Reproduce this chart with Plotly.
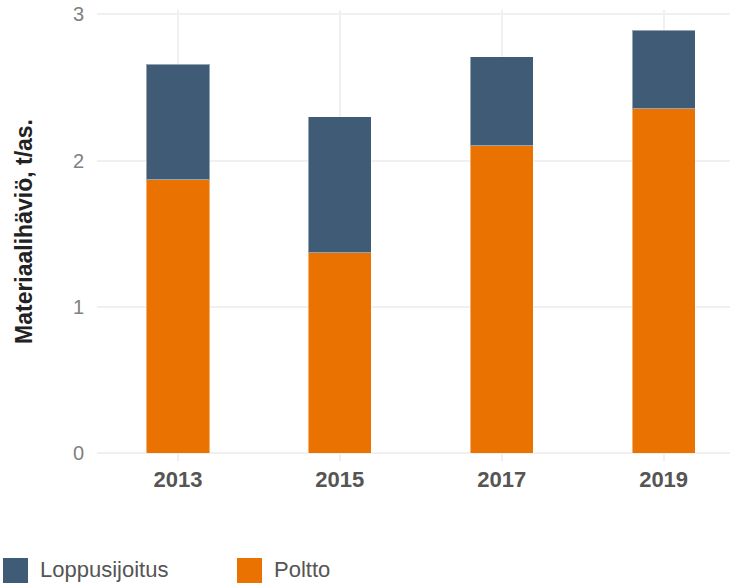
import plotly.graph_objects as go

years = ["2013", "2015", "2017", "2019"]
poltto = [1.87, 1.37, 2.10, 2.355]
loppusijoitus = [0.79, 0.93, 0.61, 0.535]
series_names = ["Loppusijoitus", "Poltto"]
series_colors = ["#3f5b75", "#ea7200"]
y_ticks = [0, 1, 2, 3]
y_title = "Materiaalihäviö, t/as."

W, H = 730, 583
ML, MR, MT, MB = 97, 0, 10, 130

fig = go.Figure()
fig.add_trace(go.Bar(x=years, y=poltto, name=series_names[1],
                     marker=dict(color=series_colors[1], line=dict(color="rgba(255,255,255,0.45)", width=1)),
                     width=0.39, showlegend=False))
fig.add_trace(go.Bar(x=years, y=loppusijoitus, name=series_names[0],
                     marker=dict(color=series_colors[0], line=dict(color="rgba(255,255,255,0.45)", width=1)),
                     width=0.39, showlegend=False))

pw = W - ML - MR
ph = H - MT - MB
def px2x(p):
    return (p - ML) / pw
def py2y(p):
    return (H - MB - p) / ph

# custom legend
legend_items = [(series_names[0], series_colors[0], 3), (series_names[1], series_colors[1], 237)]
for name, col, lx in legend_items:
    fig.add_shape(type="rect", xref="paper", yref="paper",
                  x0=px2x(lx), x1=px2x(lx + 25), y0=py2y(584), y1=py2y(558),
                  fillcolor=col, line=dict(width=0))
    fig.add_annotation(xref="paper", yref="paper", x=px2x(lx + 35), y=py2y(569),
                       text=name, showarrow=False, xanchor="left", yanchor="middle",
                       font=dict(family="Liberation Sans, Arial", size=22, color="#555555"))

fig.update_layout(
    barmode="stack",
    width=W, height=H,
    margin=dict(l=ML, r=MR, t=MT, b=MB, autoexpand=False),
    plot_bgcolor="white", paper_bgcolor="white",
    font=dict(family="Liberation Sans, Arial", color="#555555"),
    xaxis=dict(range=[-0.5, 3.41], showgrid=True, gridcolor="#f0f0f0", gridwidth=2,
               ticks="outside", ticklen=7, tickcolor="#f0f0f0", tickwidth=2,
               tickfont=dict(size=22, color="#555555", family="Liberation Sans, Arial"),
               tickprefix="<b>", ticksuffix="</b>", showline=False, automargin=False),
    yaxis=dict(range=[0, 3.03], tickvals=y_ticks, showgrid=True, gridcolor="#f0f0f0", gridwidth=2,
               zeroline=True, zerolinecolor="#f0f0f0", zerolinewidth=2,
               tickfont=dict(size=20, color="#808080"), ticklabelstandoff=12,
               title=dict(text="<b>" + y_title + "</b>", font=dict(size=23, color="#222222"), standoff=33),
               automargin=False),
    bargap=0.61,
)

fig.write_html("out.html", config={"displayModeBar": False},
               post_script="document.body.style.margin='0';document.body.style.overflow='hidden';")
